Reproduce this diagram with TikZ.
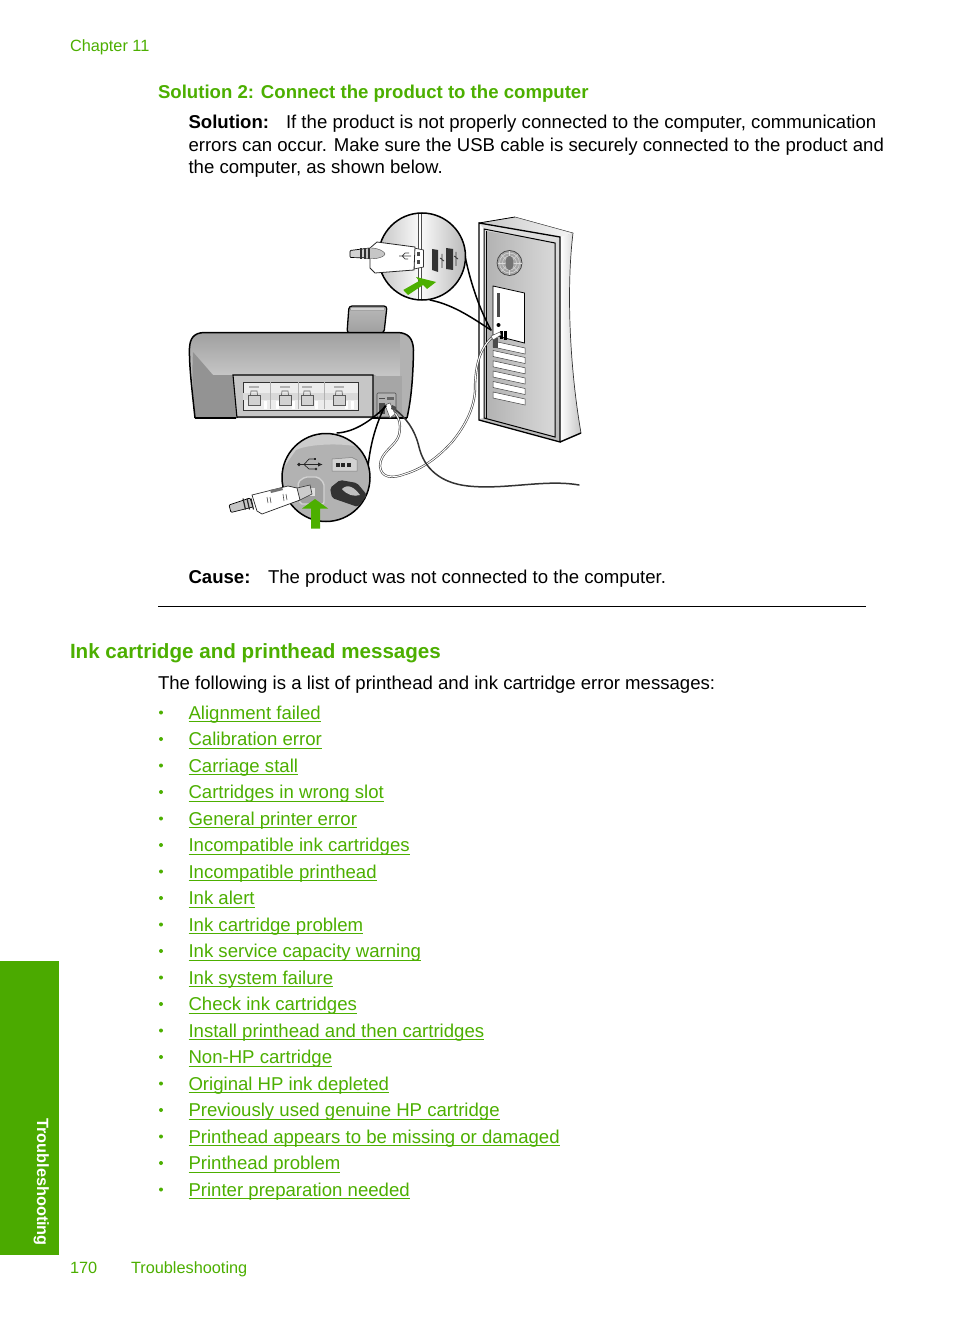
\documentclass[tikz,border=0pt]{standalone}
\usepackage{fontspec}
\setmainfont{Liberation Sans}
\definecolor{hpg}{HTML}{4CAF00}
\definecolor{hpside}{HTML}{4BAA00}
\newcommand\lnk[1]{\setbox0\hbox{#1}\rlap{\rule[-3.4pt]{\wd0}{1.1pt}}\box0}
\newcommand\fs[1]{\fontsize{#1}{#1}\selectfont}
\tikzset{
 txt/.style={inner sep=0,outer sep=0,anchor=base west,font=\fs{18.6},text=black},
 head/.style={txt,font=\fs{18.6}\bfseries,text=hpg},
 small/.style={txt,font=\fs{16.3},text=hpg},
 linkt/.style={txt,font=\fs{18.6},text=hpg},
 bul/.style={circle,fill=hpg,inner sep=0,minimum size=4pt},
 lens/.style={draw=black,line width=1.5pt},
 tail/.style={draw=black,line width=1.5pt,line cap=round},
}
\begin{document}
\begin{tikzpicture}[x=1pt,y=-1pt]
\useasboundingbox (0,0) rectangle (954,1321);
\fill[white] (0,0) rectangle (954,1321);
% sidebar
\fill[hpside] (0,961) rectangle (59,1255);
\node[inner sep=0,anchor=base west,rotate=-90,text=white,font=\fs{16.3}\bfseries] (side) at (37,1118) {Troubleshooting};
% header
\node[small] (chap) at (70,52) {Chapter 11};
\node[head] (sol) at (158,99) {Solution 2: Connect the product to the computer};
\node[txt,font=\fs{18.6}\bfseries] (solb) at (188.5,129) {Solution:};
\node[txt] (l1) at (286,129) {If the product is not properly connected to the computer, communication};
\node[txt] (l2) at (188.5,152) {errors can occur. Make sure the USB cable is securely connected to the product and};
\node[txt] (l3) at (188.5,174) {the computer, as shown below.};
\node[txt,font=\fs{18.6}\bfseries] (cb) at (188.5,583) {Cause:};
\node[txt] (c1) at (268,583) {The product was not connected to the computer.};
\draw[black,line width=0.9pt] (158,606.5) -- (866,606.5);
\node[txt,font=\fs{20.6}\bfseries,text=hpg] (h2) at (70,658) {Ink cartridge and printhead messages};
\node[txt] (intro) at (158,689) {The following is a list of printhead and ink cartridge error messages:};
% list
\foreach \t [count=\i from 0] in {Alignment failed,Calibration error,Carriage stall,Cartridges in wrong slot,General printer error,Incompatible ink cartridges,Incompatible printhead,Ink alert,Ink cartridge problem,Ink service capacity warning,Ink system failure,Check ink cartridges,Install printhead and then cartridges,Non-HP cartridge,Original HP ink depleted,Previously used genuine HP cartridge,Printhead appears to be missing or damaged,Printhead problem,Printer preparation needed}{
  \pgfmathsetmacro\yy{719+26.5*\i}
  \node[bul] (b\i) at (161,\yy-6.5) {};
  \node[linkt] (k\i) at (188.5,\yy) {\lnk{\t}};
}
% footer
\node[small] (pg) at (70,1273) {170};
\node[small] (ft) at (131,1273) {Troubleshooting};

% ---- tower
\fill[left color=gray!45,right color=gray!8] (479,223) -- (515,217) -- (573,233) -- (560,238) -- cycle;
\draw[black,line width=0.8pt] (479,223) -- (515,217);
\draw[black!70,line width=0.5pt] (515,217) -- (573,233);
\shade[left color=white,right color=gray!45] (560,237) -- (573,233) .. controls (566,290) and (570,370) .. (581,433) -- (560,442) -- cycle;
\draw[black!80,line width=0.7pt] (573,233) .. controls (566,290) and (570,370) .. (581,433);
\shade[top color=gray!25,bottom color=gray!55] (479,223) -- (560,237) -- (560,442) -- (479,420) -- cycle;
\fill[white] (479,224) -- (484,229) -- (484,418) -- (479,419) -- cycle;
\shade[left color=gray!60,right color=gray!30] (486,231) -- (555,243) -- (555,437) -- (486,419) -- cycle;
\draw[black,line width=1.3pt] (479,223) -- (560,237) -- (560,442) -- (479,420) -- cycle;
\draw[black,line width=1pt] (484,229) -- (555,243) -- (555,437) -- (484,418) -- cycle;
\draw[black,line width=.6pt] (486,231) -- (486,419);
\draw[black,line width=1.4pt] (560,442) -- (581,433);
% fan
\fill[gray!70] (509.5,263) circle (12.5);
\draw[black!75,line width=.7pt] (509.5,263) circle (12.5);
\foreach \r in {4,7,10}{\draw[gray!30,line width=.5pt] (509.5,263) circle (\r);}
\foreach \a in {0,45,...,315}{\draw[gray!30,line width=.5pt] (509.5,263) -- ++(\a:12);}
\fill[black!55] (509.5,263) ellipse (4 and 7);
% io plate
\fill[white,draw=black,line width=.8pt] (493,286) -- (524.5,293) -- (524.5,343) -- (493,335) -- cycle;
\fill[black!70] (497,293) rectangle (500,317);
\fill[black] (498.5,325) circle (2);
\fill[black] (500,331) rectangle (503,339);
\fill[black] (504,331) rectangle (507,340);
% slots
\foreach \y in {341,350.5,360.8,371,381.5,392}{
  \fill[white,draw=black!75,line width=.5pt] (493,\y) -- (525,\y+7) -- (525,\y+13) -- (493,\y+6) -- cycle;
}
\fill[black!70] (493,338) rectangle (498,348);

% ---- printer
\fill[gray!85!black,draw=black,line width=1.3pt,rounded corners=3pt,top color=gray!55,bottom color=gray!75] (347,333) -- (349,306) -- (387,306) -- (384,333) -- cycle;
\fill[black!5,draw=black,line width=.1pt] (351,308) -- (385,308) -- (384.5,310) -- (350.5,310) -- cycle;
\path[fill=gray!80] (195,418) .. controls (192,390) and (189,365) .. (189.5,348) .. controls (190,338) and (194,333) .. (204,332.5) -- (398,332.5) .. controls (408,333) and (413,338) .. (413.5,350) .. controls (413,380) and (411,400) .. (407,418) -- cycle;
\shade[top color=gray!75,bottom color=gray!45,middle color=gray!45] (195,418) .. controls (192,390) and (189,365) .. (189.5,348) .. controls (190,338) and (194,333) .. (204,332.5) -- (398,332.5) .. controls (408,333) and (413,338) .. (413.5,350) .. controls (413,370) and (412,380) .. (410,392) -- (392,392) -- (375,375) -- (233,375) -- (235,418) -- cycle;
\fill[gray!85] (195,418) .. controls (192,390) and (192,370) .. (193,352) -- (213,375) -- (233,375) -- (237,418) -- cycle;
\fill[gray!60] (400,334) .. controls (410,336) and (413,342) .. (413,350) .. controls (413,380) and (411,400) .. (407,418) -- (400,418) -- cycle;
\fill[gray!70] (373,376) rectangle (402,418);
\draw[black,line width=1.5pt] (195,418) .. controls (192,390) and (189,365) .. (189.5,348) .. controls (190,338) and (194,333) .. (204,332.5) -- (398,332.5) .. controls (408,333) and (413,338) .. (413.5,350) .. controls (413,380) and (411,400) .. (407,418);
\draw[black,line width=1.5pt] (195,418) -- (236,418);
\draw[black,line width=1.5pt] (372,418) -- (407,418);
% door
\fill[gray!45] (233,375) -- (373,375) -- (373,417) -- (237,417) -- cycle;
\draw[black,line width=1.1pt] (237,418) -- (233,375) -- (373,375) -- (373,417) -- (237,417);
\fill[gray!15] (243,382) rectangle (358,410);
\draw[black!80,line width=.7pt] (243,382) rectangle (358,410);
\fill[gray!30] (243,393) rectangle (358,400);
\foreach \x in {270,298,324}{\fill[gray!60] (\x,382) rectangle (\x+1,409);}
\foreach \x in {264,276,292,315,345,351}{\fill[white] (\x,401) rectangle (\x+3,409);}
\foreach \x in {254,285,307,339}{
  \fill[gray!60] (\x-5,385.5) rectangle (\x+5,388);
  \fill[gray!35,draw=black!65,line width=.6pt] (\x-6,395) rectangle (\x+6,405);
  \draw[black!65,line width=.6pt] (\x-3.5,395) -- (\x-3,391) -- (\x+3,391) -- (\x+3.5,395);
}
% port box
\fill[gray!60,draw=black!70,line width=.6pt,rounded corners=1pt] (377,393) rectangle (396,417);
\fill[black!70] (379,403) rectangle (385,414);
\fill[black!60] (387,397) rectangle (394,400);
\draw[black!70,line width=.7pt] (379,398) -- (385,398);

% ---- cables
\draw[black!75,line width=2.2pt,line cap=round] (495,335) .. controls (482,345) and (476,360) .. (475,385) .. controls (476,405) and (466,425) .. (452,442) .. controls (440,455) and (425,468) .. (405,474) .. controls (392,479) and (381,478) .. (380,466) .. controls (380,452) and (396,446) .. (399,435) .. controls (402,422) and (398,412) .. (386,407);
\draw[white,line width=1pt,line cap=round] (495,335) .. controls (482,345) and (476,360) .. (475,385) .. controls (476,405) and (466,425) .. (452,442) .. controls (440,455) and (425,468) .. (405,474) .. controls (392,479) and (381,478) .. (380,466) .. controls (380,452) and (396,446) .. (399,435) .. controls (402,422) and (398,412) .. (386,407);
\draw[black!80,line width=1.5pt,line cap=round] (393,408) .. controls (406,417) and (415,430) .. (419,447) .. controls (424,468) and (440,483) .. (468,486) .. controls (505,490) and (545,479) .. (579,485);
\fill[white,draw=black!70,line width=.5pt] (385,405) -- (390,403) -- (395,414) -- (390,418) -- cycle;
\fill[black!70] (392,405) -- (396,407) -- (396,411) -- (391,409) -- cycle;
% tower plug
\fill[white,draw=black!70,line width=.5pt] (491,336) -- (500,332) -- (501,335) -- (493,340) -- cycle;

% ---- upper lens
\draw[tail] (465,256) .. controls (471,285) and (480,310) .. (491,330);
\draw[tail] (430,300) .. controls (455,305) and (475,320) .. (491,330);
\begin{scope}
\clip (422,256.5) circle (43.5);
\shade[left color=gray!45,right color=gray!5] (379,213) rectangle (419,300);
\shade[left color=gray!5,right color=gray!55] (421,213) rectangle (466,300);
\fill[black!70] (418,213) rectangle (419,300);
\fill[black!70] (421,213) rectangle (422,300);
\fill[white] (419,213) rectangle (421,300);
\end{scope}
\draw[lens] (422,256.5) circle (43.5);
% upper plug
\fill[gray!35,draw=black,line width=.7pt,rounded corners=1pt] (350,250.5) -- (370,248) -- (371,258) -- (350,257.5) -- cycle;
\fill[white,draw=black!80,line width=.7pt] (414,248) -- (423.5,250) -- (423.5,267) -- (414,269) -- cycle;
\fill[black!70] (417,252) rectangle (420,256);
\fill[black!70] (417,260) rectangle (420,264);
\fill[white,draw=black!85,line width=.8pt] (370,248) -- (377,242) -- (415,247) -- (414,270) -- (375,273) -- (370,268) -- cycle;
\fill[gray!45,draw=black!70,line width=.4pt] (365,249) .. controls (372,246) and (384,250) .. (385,254) .. controls (384,258) and (372,260) .. (365,258) -- cycle;
\foreach \x in {361,365,369}{\draw[black!80,line width=1.2pt] (\x,248.5) -- (\x,259);}
\draw[black!75,line width=.7pt] (399,256) -- (411,256) (402,256) -- (405,253) -- (409,253) (402,256) -- (405,259) -- (408,259);
% upper ports
\fill[black!80] (432,249) -- (438,250) -- (438,272) -- (432,270) -- cycle;
\fill[black!80] (446,248) -- (453,249) -- (453,270) -- (446,269) -- cycle;
\draw[black!80,line width=.8pt] (442,254) -- (442,268) (440,258) -- (444,261) (456,252) -- (456,266) (454,256) -- (458,259);
\fill[hpg] (403.3,290) -- (408,295) -- (423,285) -- (427,289) -- (436,282) -- (416,277) -- (419,281) -- cycle;

% ---- lower lens
\draw[tail] (337,433) .. controls (355,432) and (372,420) .. (386,406);
\draw[tail] (367,482) .. controls (368,455) and (373,430) .. (385,406);
\begin{scope}
\clip (326,477.5) circle (44);
\fill[gray!60] (282,433) rectangle (370,522);
\fill[gray!40] (282,433) -- (370,433) -- (370,460) -- (362,448) .. controls (350,443) and (310,443) .. (296,450) -- (282,470) -- cycle;
\end{scope}
\draw[lens] (326,477.5) circle (44);
% symbol and port
\fill[black!85] (299,464.5) circle (1.8);
\draw[black!85,line width=.7pt] (299,464.5) -- (322,464.5) (304,464.5) -- (309,459) -- (315,459) (304,464.5) -- (309,469) -- (315,469);
\fill[black!85] (313.5,457.5) rectangle (316,460);
\fill[black!85] (316,469) circle (1.3);
\fill[black!85] (322,464.5) -- (318,462.5) -- (318,466.5) -- cycle;
\fill[gray!35,draw=black!50,line width=.5pt] (332,459) -- (352,457.5) -- (357,460) -- (357,471) -- (332,471) -- cycle;
\foreach \x in {335.5,341,346.5}{\fill[black!85] (\x,463) rectangle (\x+4,466.5);}
% square port
\fill[gray!85!black!65,draw=gray!35,line width=1.4pt,rounded corners=2pt] (298,482) -- (305,477) -- (318,477) -- (324,483) -- (324,504) -- (300,504) -- cycle;
\fill[gray!25] (306,488) rectangle (315,496);
% lump
\fill[black!80,rounded corners=2pt] (330,488) -- (340,480) -- (357,483) -- (367,495) -- (358,507) -- (332,498) -- cycle;
\fill[gray!50] (342,489) .. controls (348,483) and (355,488) .. (360,495) .. controls (354,497) and (347,495) .. (342,489);
% lower plug
\fill[gray!40,draw=black!80,line width=.6pt] (293,489) -- (310,485) -- (312,494) -- (298,501) -- cycle;
\fill[gray!45,draw=black,line width=.7pt,rounded corners=1pt] (229,505) -- (250,498) -- (253,507) -- (231,512.5) -- cycle;
\foreach \x in {243,247,251}{\draw[black!85,line width=1.2pt] (\x,498.5) -- (\x+2.5,509.5);}
\fill[white,draw=black!85,line width=.7pt] (252,495) -- (288,486) -- (297,488) -- (300,500) -- (262,514) -- (257,511) -- cycle;
\draw[black!70,line width=.6pt] (267,497) -- (268,503) (270,497) -- (271,503) (283,494) -- (284,501) (286,494) -- (287,500);
\fill[black!55] (270,490) -- (282,487.5) -- (283,490) -- (271,493) -- cycle;
\fill[hpg] (311,528.5) -- (320,528.5) -- (320,508.5) -- (328,508.5) -- (315,499) -- (302,508.5) -- (311,508.5) -- cycle;
\end{tikzpicture}
\end{document}
